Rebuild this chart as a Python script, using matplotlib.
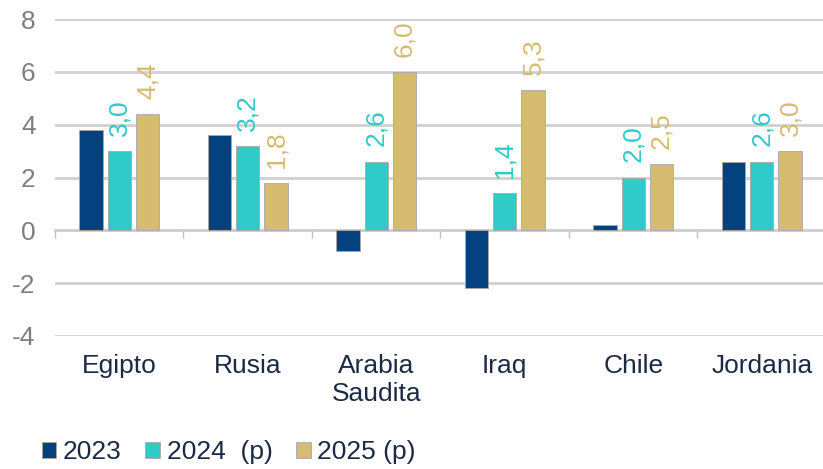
import numpy as np
import matplotlib.pyplot as plt

plt.rcParams['font.family'] = ['Liberation Sans', 'DejaVu Sans']
plt.rcParams['axes.unicode_minus'] = False

countries = ['Egipto', 'Rusia', 'Arabia\nSaudita', 'Iraq', 'Chile', 'Jordania']
series_names = ['2023', '2024  (p)', '2025 (p)']
v2023 = [3.8, 3.6, -0.8, -2.2, 0.2, 2.6]
v2024 = [3.0, 3.2, 2.6, 1.4, 2.0, 2.6]
v2025 = [4.4, 1.8, 6.0, 5.3, 2.5, 3.0]
colors = ['#04427F', '#2ECBC8', '#D5BC70']
label_series = [False, True, True]

fig = plt.figure(figsize=(8.23, 4.69), dpi=100)
ax = fig.add_axes([55 / 823, 0.284, 771 / 823, 0.675])

x = np.arange(len(countries))
width = 0.18
offsets = [-0.22, 0.0, 0.22]

for vals, name, col, off, lab in zip([v2023, v2024, v2025], series_names, colors, offsets, label_series):
    bars = ax.bar(x + off, vals, width, color=col, edgecolor='#a8a8a8', linewidth=0.6,
                  label=name, zorder=3)
    if lab:
        for b, v in zip(bars, vals):
            ax.annotate(f'{v:.1f}'.replace('.', ','), (b.get_x() + b.get_width() / 2, v),
                        xytext=(0, 11), textcoords='offset points', rotation=90,
                        ha='center', va='bottom', color=col, fontsize=19,
                        annotation_clip=False, zorder=4)

ax.set_xlim(-0.5, len(countries) - 0.5)
ax.set_ylim(-4, 8)
ax.set_yticks(np.arange(-4, 9, 2))
ax.tick_params(axis='y', length=0, pad=14, labelsize=19, labelcolor='#7f7f7f')
ax.set_xticks(x)
ax.set_xticklabels(countries)
ax.tick_params(axis='x', length=0, pad=13, labelsize=19, labelcolor='#1c2a48')
ax.grid(axis='y', color='#d0d0d0', linewidth=2, zorder=0)
for s in ax.spines.values():
    s.set_visible(False)

# category axis line drawn at zero with boundary tick marks
zero_axis = ax.secondary_xaxis(4 / 12)
zero_axis.set_xticks(np.arange(-0.5, len(countries), 1.0))
zero_axis.tick_params(length=6, width=1, color='#c0c0c0', labelbottom=False, direction='out')
zero_axis.spines['bottom'].set_color('#d0d0d0')
zero_axis.spines['bottom'].set_linewidth(2)

fig.legend(loc='lower left', bbox_to_anchor=(0.022, -0.04), ncol=3, frameon=False,
           fontsize=19, handlelength=0.55, handleheight=0.55, handletextpad=0.25,
           columnspacing=0.9, labelcolor='#1c2a48')

fig.savefig('out.png', dpi=100)
